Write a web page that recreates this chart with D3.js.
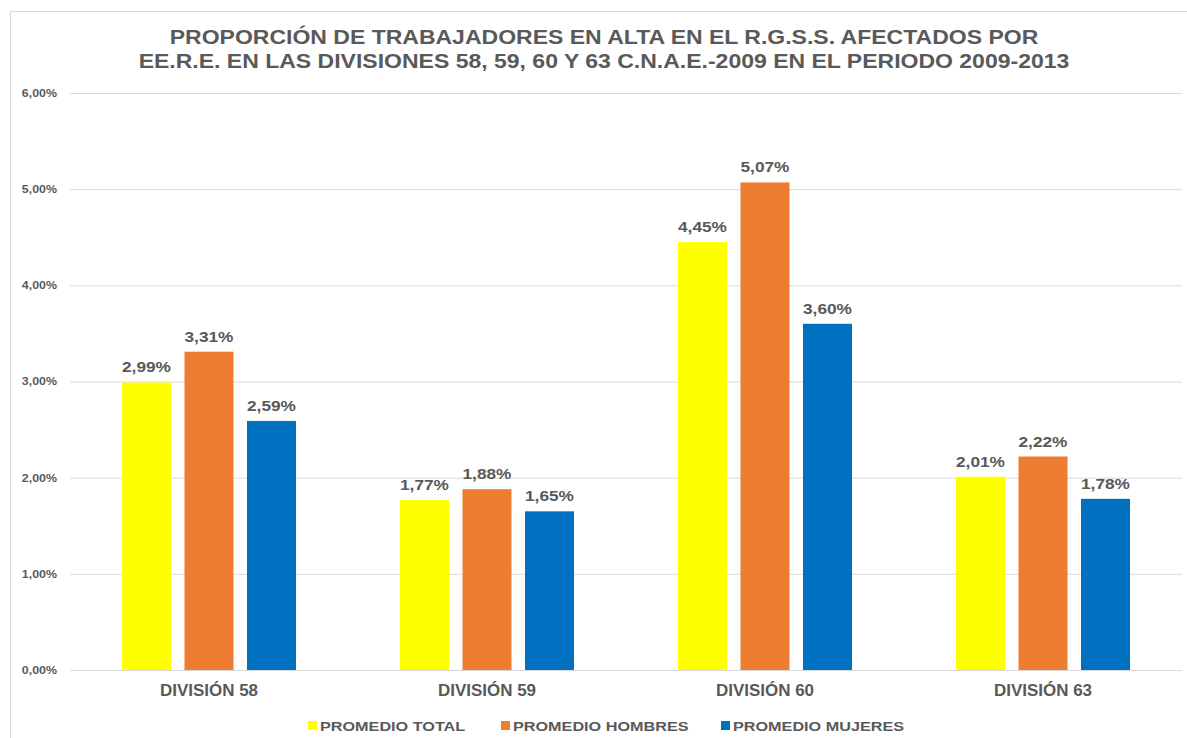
<!DOCTYPE html>
<html>
<head>
<meta charset="utf-8">
<script src="https://cdn.jsdelivr.net/npm/d3@7/dist/d3.min.js"></script>
<style>
  html, body { margin: 0; padding: 0; background: #fff; }
  svg text { font-family: "Liberation Sans", Arial, sans-serif; font-weight: bold; fill: #595959; }
</style>
</head>
<body>
<svg id="chart" width="1187" height="738"></svg>
<script>
// Data
const categories = ["DIVISIÓN 58", "DIVISIÓN 59", "DIVISIÓN 60", "DIVISIÓN 63"];
const seriesNames = ["PROMEDIO TOTAL", "PROMEDIO HOMBRES", "PROMEDIO MUJERES"];
const seriesColors = ["#FFFF00", "#ED7D31", "#0070C0"];
const promedioTotal = [2.99, 1.77, 4.45, 2.01];
const promedioHombres = [3.31, 1.88, 5.07, 2.22];
const promedioMujeres = [2.59, 1.65, 3.60, 1.78];
const yTicks = [0, 1, 2, 3, 4, 5, 6];
const titleLines = [
  "PROPORCIÓN DE TRABAJADORES EN ALTA EN EL R.G.S.S. AFECTADOS POR",
  "EE.R.E. EN LAS DIVISIONES 58, 59, 60 Y 63 C.N.A.E.-2009 EN EL PERIODO 2009-2013"
];

const seriesValues = [promedioTotal, promedioHombres, promedioMujeres];
const fmt = v => v.toFixed(2).replace(".", ",") + "%";

// Widen text horizontally by factor k (keeps glyph height)
function stretch(sel, k) {
  sel.each(function () {
    const w = this.getComputedTextLength();
    d3.select(this).attr("textLength", w * k).attr("lengthAdjust", "spacingAndGlyphs");
  });
}

const svg = d3.select("#chart");
const W = 1187, H = 738;
const plotLeft = 70, plotRight = 1182, plotTop = 93, plotBottom = 670;

// Chart frame
svg.append("path")
  .attr("d", `M10.5,${H} V11.5 H${W}`)
  .attr("fill", "none")
  .attr("stroke", "#d9d9d9")
  .attr("stroke-width", 1);

const x0 = d3.scaleBand().domain(categories).range([plotLeft, plotRight]).paddingInner(0).paddingOuter(0);
const y = d3.scaleLinear().domain([0, 6]).range([plotBottom, plotTop]);

// Gridlines + y labels
const yAxis = d3.axisLeft(y).tickValues(yTicks).tickSize(-(plotRight - plotLeft)).tickFormat(d => fmt(d));
const gy = svg.append("g").attr("transform", `translate(${plotLeft},0)`).call(yAxis);
gy.select(".domain").remove();
gy.selectAll(".tick line").attr("stroke", "#d9d9d9").attr("stroke-width", 1);
gy.selectAll(".tick text")
  .attr("x", -13)
  .attr("dy", "0.32em")
  .style("font-size", "10.5px")
  .attr("fill", "#595959")
  .call(stretch, 1.18);

// Bars
const barW = 49, gap = 13.5;
const groupW = 3 * barW + 2 * gap;
const x1 = d3.scaleBand().domain(d3.range(3)).range([0, groupW]).paddingInner(gap / (barW + gap)).paddingOuter(0);

const groups = svg.append("g").selectAll("g")
  .data(categories)
  .join("g")
  .attr("transform", d => `translate(${x0(d) + x0.bandwidth() / 2 - groupW / 2},0)`);

groups.each(function (cat, ci) {
  const g = d3.select(this);
  seriesValues.forEach((vals, si) => {
    const v = vals[ci];
    g.append("rect")
      .attr("x", x1(si))
      .attr("width", x1.bandwidth())
      .attr("y", y(v))
      .attr("height", y(0) - y(v))
      .attr("fill", seriesColors[si]);
    g.append("text")
      .attr("x", x1(si) + x1.bandwidth() / 2)
      .attr("y", y(v) - 10)
      .attr("text-anchor", "middle")
      .style("font-size", "15px")
      .text(fmt(v))
      .call(stretch, 1.15);
  });
});

// Category labels
const xAxis = d3.axisBottom(x0).tickSize(0);
const gx = svg.append("g").attr("transform", `translate(0,${plotBottom})`).call(xAxis);
gx.select(".domain").remove();
gx.selectAll(".tick text")
  .attr("y", 15)
  .attr("dy", "0.71em")
  .style("font-size", "16px")
  .call(stretch, 1.06);

// Title
svg.append("g").selectAll("text")
  .data(titleLines)
  .join("text")
  .attr("x", 604)
  .attr("y", (d, i) => 44 + i * 24)
  .attr("text-anchor", "middle")
  .style("font-size", "20px")
  .text(d => d)
  .call(stretch, 1.15);

// Legend
const legendX = [308, 501, 721];
const legend = svg.append("g").selectAll("g")
  .data(seriesNames)
  .join("g")
  .attr("transform", (d, i) => `translate(${legendX[i]},731)`);
legend.append("rect")
  .attr("x", 0).attr("y", -10)
  .attr("width", 9).attr("height", 9)
  .attr("fill", (d, i) => seriesColors[i]);
legend.append("text")
  .attr("x", 12)
  .attr("y", 0)
  .style("font-size", "13.5px")
  .text(d => d)
  .call(stretch, 1.2);
</script>
</body>
</html>
